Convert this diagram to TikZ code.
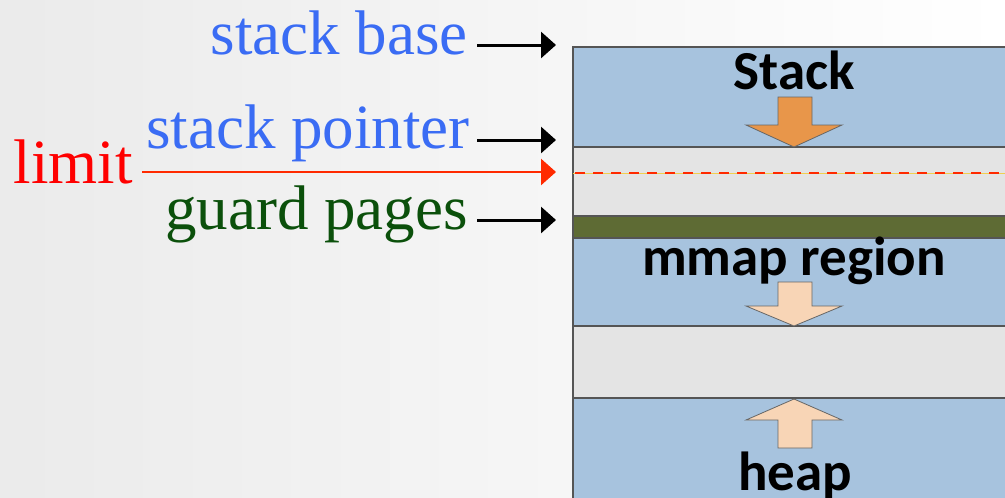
\documentclass[tikz,border=0pt]{standalone}
\usepackage{fontspec}
\setmainfont{Liberation Serif}
\newfontfamily\calibri{Carlito}
\usetikzlibrary{arrows.meta,calc}
\definecolor{bandblue}{HTML}{A7C3DE}
\definecolor{bandgray}{HTML}{E4E4E4}
\definecolor{bandgreen}{HTML}{5E6B34}
\definecolor{edgegray}{HTML}{555555}
\definecolor{lblblue}{HTML}{3A6CF4}
\definecolor{lblgreen}{HTML}{0B500B}
\definecolor{limred}{HTML}{FF2A00}
\definecolor{orangearr}{HTML}{E8964A}
\definecolor{peach}{HTML}{F8D5B6}
\definecolor{yel}{HTML}{F0D050}
\tikzset{
  band/.style={draw=edgegray, line width=1.2pt},
  lbl/.style={inner sep=0pt, anchor=base east, font=\fontsize{63}{63}\selectfont},
  boxtxt/.style={inner sep=0pt, anchor=base, font=\calibri\bfseries\fontsize{55}{55}\selectfont},
  ptr/.style={line width=3pt, -{Triangle[length=15pt,width=26pt]}},
  bigarrow/.style={draw=gray!80!black, line width=0.8pt, line join=miter},
}
\begin{document}
\begin{tikzpicture}[x=1pt,y=-1pt]
\useasboundingbox (0,0) rectangle (1005,498);
\clip (0,0) rectangle (1005,498);
\shade[left color=gray!16, right color=white] (0,0) rectangle (1005,498);
% memory bands
\filldraw[band, fill=bandblue] (573,47) rectangle (1012,147);
\filldraw[band, fill=bandgray] (573,147) rectangle (1012,216);
\filldraw[band, fill=bandgreen] (573,216) rectangle (1012,238);
\filldraw[band, fill=bandblue] (573,238) rectangle (1012,326);
\filldraw[band, fill=bandgray] (573,326) rectangle (1012,398);
\filldraw[band, fill=bandblue] (573,398) rectangle (1012,500);
% limit dashed line
\draw[yel, line width=1pt] (573,173) -- (1005,173);
\draw[limred, line width=2.6pt, dash pattern=on 10pt off 8pt] (575,173) -- (1005,173);
% band labels
\node[boxtxt] (stk) at (794,89) {Stack};
\node[boxtxt] (mm) at (794,275) {mmap region};
\node[boxtxt] (hp) at (795,490) {heap};
% growth arrows
\filldraw[bigarrow, fill=orangearr] (778,97) -- (812,97) -- (812,125) -- (842,125) -- (794,147) -- (746,125) -- (778,125) -- cycle;
\filldraw[bigarrow, fill=peach] (778,282) -- (812,282) -- (812,306) -- (842,306) -- (794,326) -- (746,306) -- (778,306) -- cycle;
\filldraw[bigarrow, fill=peach] (778,448) -- (812,448) -- (812,420) -- (842,420) -- (794,399) -- (746,420) -- (778,420) -- cycle;
% left labels
\node[lbl, text=lblblue] (sb) at (468,54) {stack base};
\node[lbl, text=lblblue] (sp) at (470,148) {stack pointer};
\node[lbl, text=red] (lim) at (133,183) {limit};
\node[lbl, text=lblgreen] (gp) at (468,229) {guard pages};
\coordinate (sbt) at (556,45);
\coordinate (spt) at (556,140);
\coordinate (limt) at (556,172);
\coordinate (gpt) at (556,220);
\draw[ptr] ($(sb.base east)+(9,-9)$) -- (sbt);
\draw[ptr] ($(sp.base east)+(7,-8)$) -- (spt);
\draw[ptr, limred, line width=2.8pt] ($(lim.base east)+(9,-11)$) -- (limt);
\draw[ptr] ($(gp.base east)+(9,-9)$) -- (gpt);
\end{tikzpicture}
\end{document}
